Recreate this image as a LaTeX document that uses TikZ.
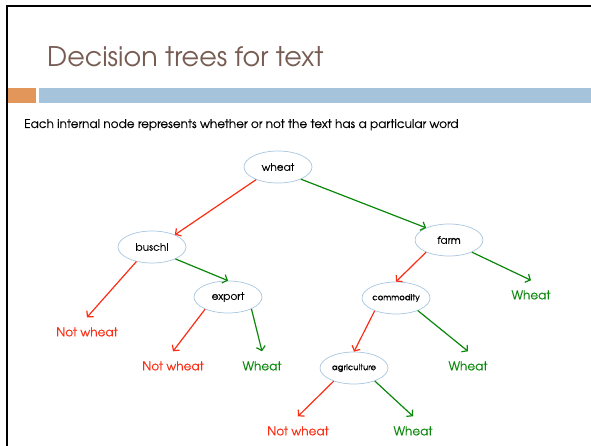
\documentclass[tikz,border=0pt]{standalone}
\usepackage{fontspec}
\setmainfont{TeX Gyre Adventor}
\newfontfamily\slidefont[FakeBold=0.3]{TeX Gyre Adventor}
\usepackage{xcolor}
\usepackage{tikz}
\usetikzlibrary{arrows.meta, shapes.geometric, positioning}

\definecolor{titlebrown}{RGB}{118,92,82}
\definecolor{barorange}{RGB}{227,150,90}
\definecolor{barblue}{RGB}{165,195,219}
\definecolor{ovalblue}{RGB}{168,198,224}
\definecolor{nored}{RGB}{250,45,20}
\definecolor{yesgreen}{RGB}{10,135,10}

\begin{document}
\begin{tikzpicture}[
        x=1pt, y=-1pt,
        test/.style={ellipse, draw=ovalblue, fill=white, line width=0.7pt,
            minimum width=68pt, minimum height=32pt, inner sep=0pt,
            font=\slidefont\fontsize{10.5}{12}\selectfont},
        leaf/.style={inner xsep=0pt, inner ysep=10pt, font=\slidefont\fontsize{12}{14}\selectfont},
        no/.style={draw=nored, line width=1.2pt, -{Straight Barb[length=4pt,width=9pt]}},
        yes/.style={draw=yesgreen, line width=1.2pt, -{Straight Barb[length=4pt,width=9pt]}}
    ]
    \useasboundingbox (0,0) rectangle (591,446);

    % Slide frame and header
    \draw[line width=2.5pt] (7,446) -- (7,6) -- (591,6);
    \fill[barorange] (8,88) rectangle (36,103);
    \fill[barblue] (39,88) rectangle (591,103);
    \node[anchor=base west, inner sep=0pt, text=titlebrown, font=\fontsize{27}{32}\selectfont] (title) at (47,67) {Decision trees for text};
    \node[anchor=base west, inner sep=0pt, font=\slidefont\fontsize{12}{14}\selectfont] (intro) at (24,128) {Each internal node represents whether or not the text has a particular word};

    % Tests
    \node[test] (wheat) at (278,167) {wheat};
    \node[test] (buschl) at (152,247) {buschl};
    \node[test] (farm) at (449,240) {farm};
    \node[test] (export) at (228,297) {export};
    \node[test, font=\slidefont\fontsize{8.5}{10}\selectfont] (commodity) at (396,298) {commodity};
    \node[test, font=\slidefont\fontsize{8.5}{10}\selectfont] (agriculture) at (354,368) {agriculture};

    % Leaves
    \node[leaf, text=nored] (n1) at (87,332) {Not wheat};
    \node[leaf, text=nored] (n2) at (173,366) {Not wheat};
    \node[leaf, text=yesgreen] (y1) at (262,366) {Wheat};
    \node[leaf, text=yesgreen] (y2) at (531,295) {Wheat};
    \node[leaf, text=yesgreen] (y3) at (468,366) {Wheat};
    \node[leaf, text=nored] (n3) at (298,431) {Not wheat};
    \node[leaf, text=yesgreen] (y4) at (413,431) {Wheat};

    \draw[no] (wheat.210) -- (buschl.28);
    \draw[yes] (wheat.-28) -- (farm.152);
    \draw[no] (buschl.223) -- (n1.north);
    \draw[yes] (buschl.-27) -- (export.north);
    \draw[no] (export.208) -- (n2.north);
    \draw[yes] (export.-27) -- (y1.north);
    \draw[no] (farm.208) -- (commodity.north);
    \draw[yes] (farm.-28) -- (y2.north);
    \draw[no] (commodity.211) -- (agriculture.north);
    \draw[yes] (commodity.-30) -- (y3.north);
    \draw[no] (agriculture.213) -- (n3.north);
    \draw[yes] (agriculture.-32) -- (y4.north);

\end{tikzpicture}
\end{document}
